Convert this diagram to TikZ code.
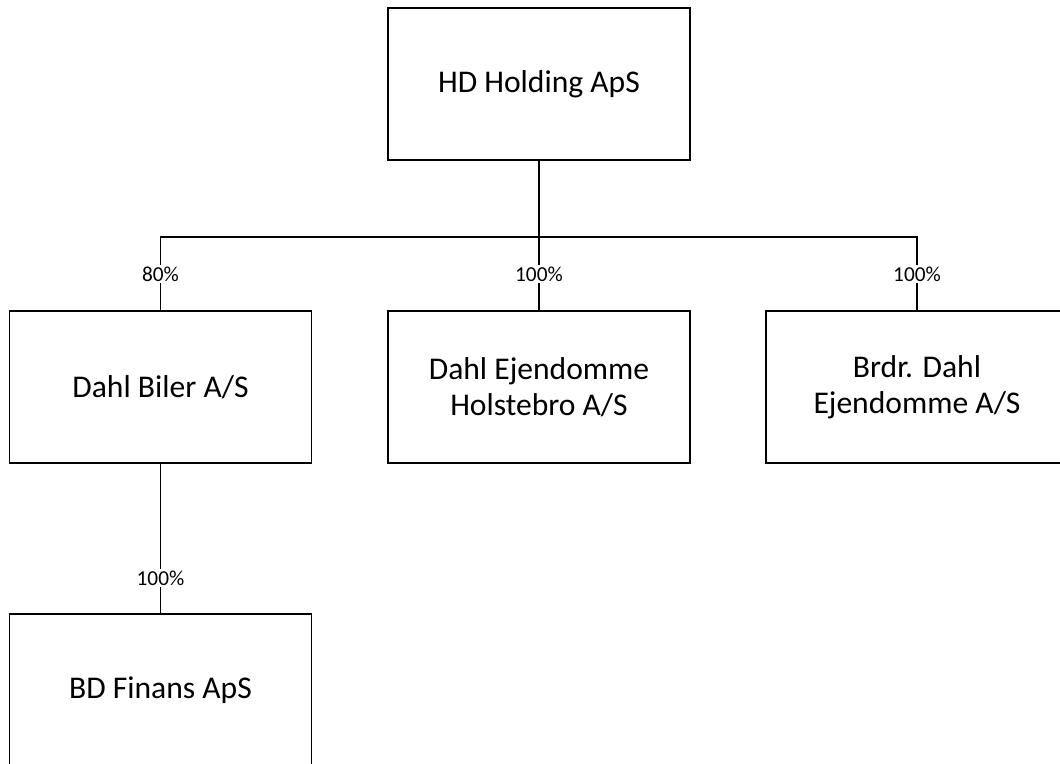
\documentclass[tikz,border=0pt]{standalone}
\usepackage{fontspec}
\setmainfont{Carlito}
\begin{document}
\begin{tikzpicture}[x=1pt,y=-1pt,
  company/.style={draw=black,line width=1.6pt,fill=white,minimum width=302pt,minimum height=152pt,
    inner sep=0pt,align=center,font=\fontsize{31.6}{36}\selectfont},
  link/.style={draw=black,line width=1.6pt},
  pct/.style={fill=white,inner sep=2pt,font=\fontsize{21.3}{22}\selectfont}]
\useasboundingbox (0,0) rectangle (1060,763);
\clip (0,0) rectangle (1060,763);
\node[company] (hd) at (539,84) {HD Holding ApS};
\node[company] (biler) at (160.5,387) {Dahl Biler A/S};
\node[company] (holst) at (539,387) {Dahl Ejendomme\\Holstebro A/S};
\node[company] (brdr) at (917,387) {Brdr. Dahl\\Ejendomme A/S};
\node[company] (finans) at (160.5,690) {BD Finans ApS};
\path (hd.south) ++(0,76) coordinate (hub);
\draw[link] (hd.south) -- (hub);
\draw[link] (biler.north) -- (biler.north |- hub) -- (brdr.north |- hub) -- (brdr.north);
\draw[link] (holst.north) -- (hub);
\draw[link] (biler.south) -- (finans.north);
\node[pct] (p1) at (160.5,274) {80\%};
\node[pct] (p2) at (539,274) {100\%};
\node[pct] (p3) at (917,274) {100\%};
\node[pct] (p4) at (160.5,578) {100\%};
\end{tikzpicture}
\end{document}
